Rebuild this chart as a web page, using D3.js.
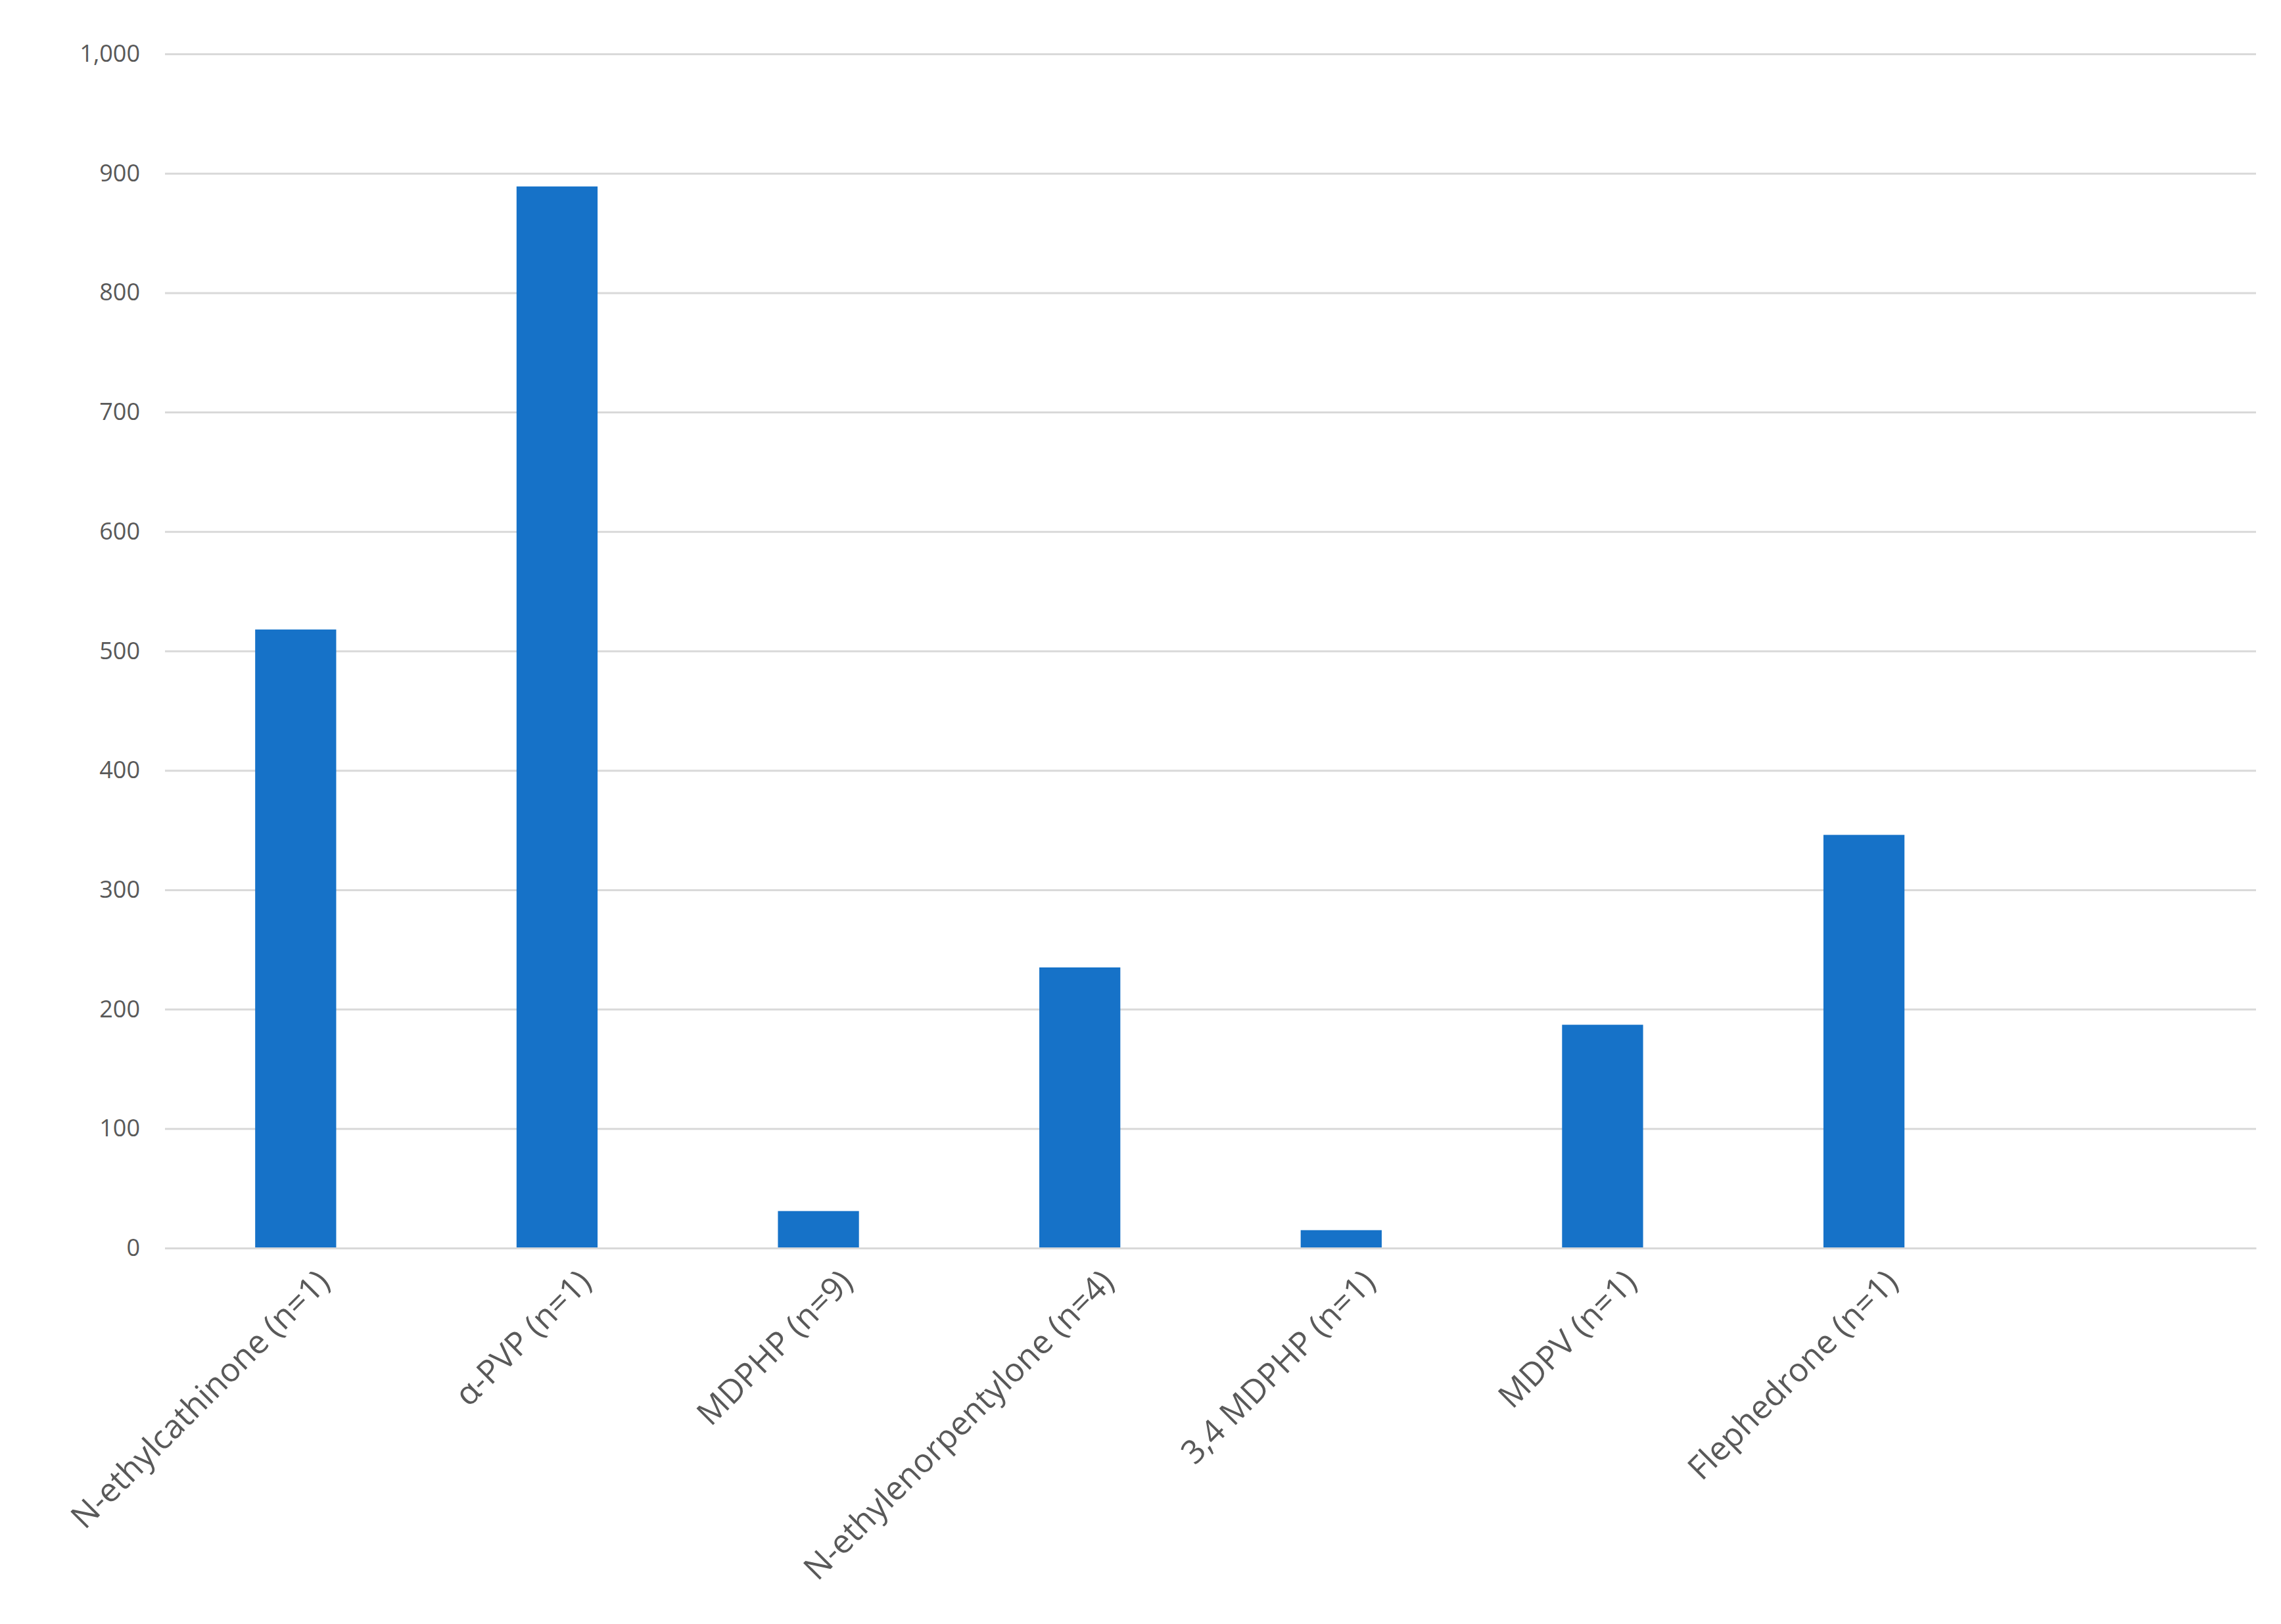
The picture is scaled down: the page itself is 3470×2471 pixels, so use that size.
<!DOCTYPE html><html><head><meta charset="utf-8"><script src="https://cdn.jsdelivr.net/npm/d3@7"></script>
<style>body{margin:0;background:#fff}</style></head><body><svg id="c" width="3470" height="2471"></svg>
<script>
const categories=["N-ethylcathinone (n=1)","α-PVP (n=1)","MDPHP (n=9)","N-ethylenorpentylone (n=4)","3,4 MDPHP (n=1)","MDPV (n=1)","Flephedrone (n=1)",""];
const values=[518,889,31,235,15,187,346,null];
const yTicks=[0,100,200,300,400,500,600,700,800,900,1000];
const svg=d3.select("#c");
const L=251,R=3432,T=82,B=1899;
const x=d3.scaleBand().domain(categories.map((d,i)=>i)).range([L,R]).paddingInner(0.69).paddingOuter(0.345);
const y=d3.scaleLinear().domain([0,1000]).range([B,T]);
const font="'Open Sans','Liberation Sans',sans-serif";
const ya=svg.append("g").attr("transform",`translate(${L},0)`).call(d3.axisLeft(y).tickValues(yTicks).tickSize(-(R-L)).tickPadding(38));
ya.select(".domain").remove();
ya.selectAll("line").attr("stroke","#d9d9d9").attr("stroke-width",3);
ya.selectAll("text").attr("font-family",font).attr("font-size",36).attr("fill","#595959");
svg.append("g").selectAll("rect").data(values.map((v,i)=>({v,i})).filter(d=>d.v!=null)).join("rect")
 .attr("x",d=>x(d.i)).attr("width",x.bandwidth()).attr("y",d=>y(d.v)).attr("height",d=>y(0)-y(d.v)).attr("fill","#1672C8");
const xa=svg.append("g").attr("transform",`translate(0,${B})`).call(d3.axisBottom(x).tickSize(0).tickFormat(i=>categories[i]));
xa.select(".domain").attr("stroke","#d9d9d9").attr("stroke-width",3);
xa.selectAll("text").attr("font-family",font).attr("font-size",50).attr("fill","#595959")
 .attr("text-anchor","end").attr("dy","0.35em").attr("transform","translate(40,40) rotate(-45)");
</script></body></html>
